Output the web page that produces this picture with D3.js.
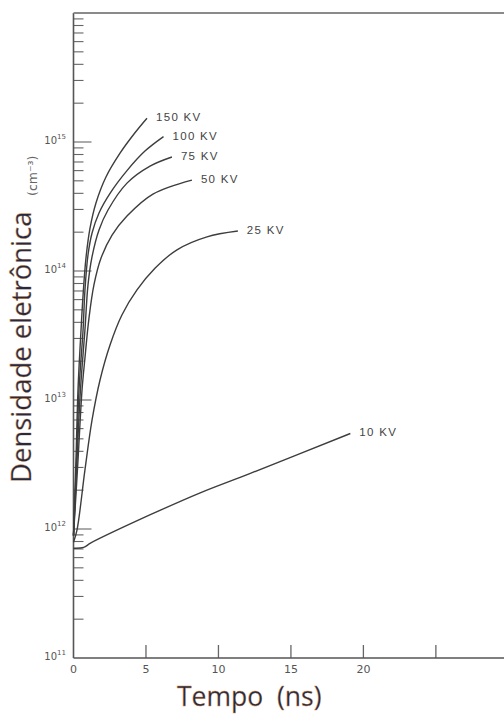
<!DOCTYPE html>
<html><head><meta charset="utf-8">
<script src="https://cdn.jsdelivr.net/npm/d3@7"></script>
<style>
html,body{margin:0;padding:0;background:#fff;}
svg{display:block;}
</style></head>
<body>
<svg id="chart" width="504" height="716"></svg>
<script>
// ---- data ----
const seriesNames = ["150 KV", "100 KV", "75 KV", "50 KV", "25 KV", "10 KV"];
const t150 = [0, 0.17, 0.31, 0.52, 0.66, 0.86, 1.14, 1.55, 2.24, 3.21, 4.24, 5.07];
const n150 = [8.9e11, 3.4e12, 1.2e13, 3.5e13, 6.5e13, 1.26e14, 2.15e14, 3.37e14, 5.36e14, 8.2e14, 1.18e15, 1.53e15];
const t100 = [0, 0.21, 0.38, 0.66, 0.79, 1.0, 1.28, 1.76, 2.52, 3.69, 4.93, 6.21];
const n100 = [8.9e11, 3.4e12, 1.2e13, 3.5e13, 7.1e13, 1.33e14, 1.97e14, 2.82e14, 4.0e14, 6.0e14, 8.5e14, 1.1e15];
const t75 = [0, 0.24, 0.48, 0.79, 1.0, 1.28, 1.76, 2.38, 3.69, 5.28, 6.79];
const n75 = [8.9e11, 3.4e12, 1.2e13, 3.5e13, 7.8e13, 1.29e14, 2.08e14, 2.97e14, 4.8e14, 6.5e14, 7.65e14];
const t50 = [0, 0.31, 0.59, 0.79, 1.07, 1.41, 1.9, 2.66, 3.69, 5.48, 8.17];
const n50 = [8.9e11, 3.4e12, 1.2e13, 2.12e13, 4.33e13, 7.8e13, 1.26e14, 1.9e14, 2.67e14, 3.95e14, 5.07e14];
const t25 = [0, 0.24, 0.79, 1.28, 1.83, 2.52, 3.34, 4.38, 5.62, 7.14, 9.21, 11.34];
const n25 = [7.9e11, 9.8e11, 2.87e12, 7.0e12, 1.43e13, 2.67e13, 4.56e13, 7.13e13, 1.05e14, 1.46e14, 1.84e14, 2.04e14];
const t10 = [0, 0.7, 1.2, 5.3, 8.7, 12.2, 19.1];
const n10 = [7.1e11, 7.2e11, 7.8e11, 1.29e12, 1.9e12, 2.7e12, 5.5e12];
const xTickValues = [5, 10, 15, 20, 25];
const xTickLabels = ["0", "5", "10", "15", "20"];
const yDecades = [11, 12, 13, 14, 15];
const xTitle = "Tempo  (ns)";
const yTitle = "Densidade eletrônica";
const yUnit = "(cm⁻³)";

const series = [
  {name: seriesNames[0], t: t150, n: n150},
  {name: seriesNames[1], t: t100, n: n100},
  {name: seriesNames[2], t: t75, n: n75},
  {name: seriesNames[3], t: t50, n: n50},
  {name: seriesNames[4], t: t25, n: n25},
  {name: seriesNames[5], t: t10, n: n10}
];

// ---- layout ----
const svg = d3.select("#chart");
const x0 = 73.5, x1 = 504, yTop = 13, yBot = 658;
const x = d3.scaleLinear().domain([0, 29.7]).range([x0, x1]);
const y = d3.scaleLog().domain([1e11, 1e16]).range([yBot, yTop]);
const axisColor = "#555";
const inkColor = "#3d3d3d";
const textColor = "#555";

// minor/major ticks on the y axis (inward)
const yTicks = [];
for (let d = 11; d < 16; d++) {
  for (let m = 1; m <= 9; m++) yTicks.push({v: m * Math.pow(10, d), major: m === 1});
}
svg.append("g").selectAll("line").data(yTicks.filter(d => d.v > 1e11)).join("line")
  .attr("x1", x0).attr("x2", d => x0 + (d.major ? 18 : 10))
  .attr("y1", d => y(d.v)).attr("y2", d => y(d.v))
  .attr("stroke", "#666").attr("stroke-width", 1.1);

// x ticks (upward)
svg.append("g").selectAll("line").data(xTickValues).join("line")
  .attr("x1", d => x(d)).attr("x2", d => x(d))
  .attr("y1", yBot).attr("y2", yBot - 13)
  .attr("stroke", "#666").attr("stroke-width", 1.3);

// axes lines
svg.append("line").attr("x1", x0).attr("x2", x1).attr("y1", yBot).attr("y2", yBot)
  .attr("stroke", axisColor).attr("stroke-width", 1.6);
svg.append("line").attr("x1", x0).attr("x2", x0).attr("y1", yTop).attr("y2", yBot)
  .attr("stroke", axisColor).attr("stroke-width", 1.6);
svg.append("line").attr("x1", x0).attr("x2", x1).attr("y1", yTop).attr("y2", yTop)
  .attr("stroke", "#8a8a8a").attr("stroke-width", 2);

// x tick labels
svg.append("g").selectAll("text").data(xTickLabels).join("text")
  .attr("x", (d, i) => x(i * 5)).attr("y", yBot + 15)
  .attr("text-anchor", "middle")
  .attr("font-family", "'DejaVu Sans', sans-serif").attr("font-size", 11)
  .attr("fill", textColor).text(d => d);

// y tick labels 10^n
const yl = svg.append("g").selectAll("text").data(yDecades).join("text")
  .attr("x", 66).attr("y", d => y(Math.pow(10, d)) + 2)
  .attr("text-anchor", "end")
  .attr("font-family", "'DejaVu Sans', sans-serif").attr("font-size", 10)
  .attr("fill", textColor);
yl.append("tspan").text("10");
yl.append("tspan").attr("dy", -5).attr("font-size", 7).text(d => String(d));

// curves
const line = d3.line().x(d => x(d[0])).y(d => y(d[1])).curve(d3.curveCatmullRom.alpha(0.5));
svg.append("g").selectAll("path").data(series).join("path")
  .attr("d", s => line(s.t.map((t, i) => [t, s.n[i]])))
  .attr("fill", "none").attr("stroke", inkColor).attr("stroke-width", 1.4);

// curve labels
svg.append("g").selectAll("text").data(series).join("text")
  .attr("x", s => x(s.t[s.t.length - 1]) + 9)
  .attr("y", s => y(s.n[s.n.length - 1]) - 1)
  .attr("dominant-baseline", "central")
  .attr("font-family", "'Liberation Sans', Arial, sans-serif").attr("font-size", 11.5)
  .attr("letter-spacing", 1.3)
  .attr("fill", "#444").text(s => s.name);

// axis titles
svg.append("text")
  .attr("transform", "translate(31,483) rotate(-90)")
  .attr("text-anchor", "start")
  .attr("font-family", "'Open Sans', sans-serif").attr("font-size", 27.5)
  .attr("fill", "#1f2b48").attr("stroke", "#d98a3a").attr("stroke-width", 0.35)
  .text(yTitle);
svg.append("text")
  .attr("transform", "translate(37,196) rotate(-90)")
  .attr("text-anchor", "start")
  .attr("font-family", "'DejaVu Sans', sans-serif").attr("font-size", 12.5)
  .attr("fill", "#666").text(yUnit);
svg.append("text")
  .attr("x", 177).attr("y", 706)
  .attr("font-family", "'Open Sans', sans-serif").attr("font-size", 26.5)
  .attr("fill", "#1f2b48").attr("stroke", "#d98a3a").attr("stroke-width", 0.35)
  .attr("xml:space", "preserve")
  .text(xTitle);
</script>
</body></html>
